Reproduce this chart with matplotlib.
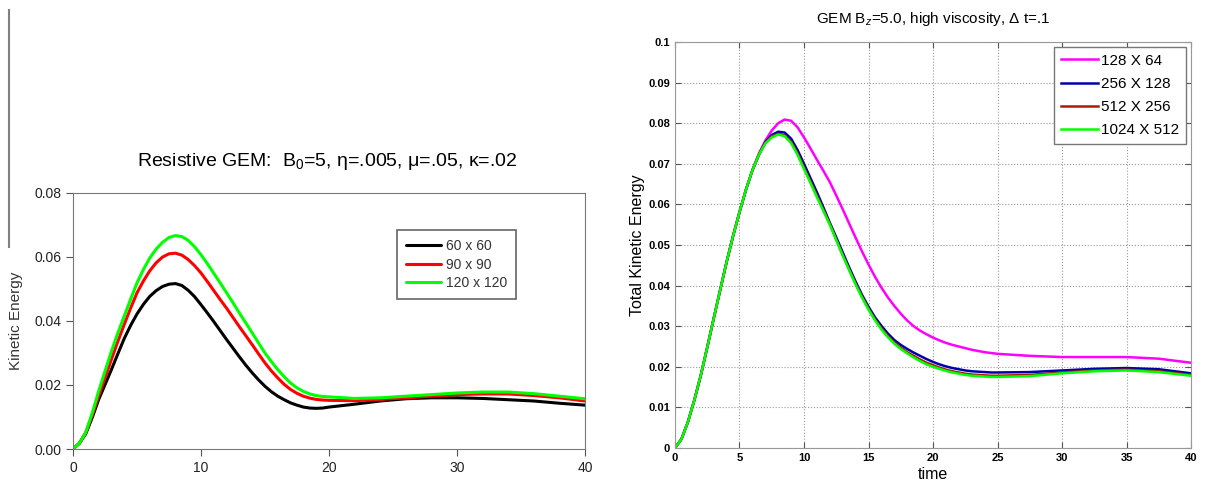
import matplotlib
matplotlib.use("Agg")
import matplotlib.pyplot as plt
from matplotlib.lines import Line2D

plt.rcParams['font.family'] = ['Liberation Sans', 'DejaVu Sans']
plt.rcParams['mathtext.fontset'] = 'custom'
plt.rcParams['mathtext.rm'] = 'Liberation Sans'
plt.rcParams['mathtext.it'] = 'Liberation Sans:italic'

# ---------------- Left panel data ----------------
t_left = [0, 0.5, 1, 1.5, 2, 2.5, 3, 3.5, 4, 4.5, 5, 5.5, 6, 6.5, 7, 7.5, 8, 8.5, 9, 9.5,
          10, 10.5, 11, 11.5, 12, 12.5, 13, 13.5, 14, 14.5, 15, 15.5, 16, 16.5, 17, 17.5,
          18, 18.5, 19, 19.5, 20, 22, 24, 26, 28, 30, 32, 34, 36, 38, 40]
ke_60 = [0, .0018, .0048, .0098, .0154, .0201, .0248, .0297, .0345, .0386, .0422, .0452,
         .0477, .0495, .0508, .0515, .0517, .0511, .0496, .0476, .0451, .0425, .0398,
         .0370, .0342, .0315, .0288, .0262, .0238, .0216, .0196, .0179, .0165, .0154,
         .0144, .0137, .0131, .0128, .0127, .0128, .0131,
         .0140, .0150, .0157, .0160, .0160, .0158, .0154, .0150, .0143, .0137]
ke_90 = [0, .0018, .0052, .0105, .0165, .0222, .0280, .0336, .0389, .0440, .0488, .0525,
         .0557, .0582, .0600, .0610, .0612, .0606, .0592, .0573, .0550, .0523, .0495,
         .0467, .0440, .0411, .0382, .0354, .0326, .0297, .0269, .0244, .0222, .0202,
         .0186, .0174, .0165, .0159, .0155, .0153, .0152,
         .0151, .0155, .0160, .0165, .0170, .0172, .0172, .0167, .0160, .0150]
ke_120 = [0, .0018, .0052, .0112, .0180, .0243, .0305, .0362, .0415, .0468, .0519, .0561,
          .0597, .0625, .0646, .0661, .0667, .0664, .0652, .0632, .0607, .0579, .0549,
          .0519, .0488, .0457, .0425, .0394, .0363, .0331, .0300, .0273, .0248, .0226,
          .0206, .0191, .0180, .0172, .0167, .0164, .0163,
          .0158, .0160, .0165, .0170, .0175, .0178, .0178, .0173, .0165, .0157]
left_labels = ["60 x 60", "90 x 90", "120 x 120"]
left_colors = ["#000000", "#ff0000", "#00ff00"]

# ---------------- Right panel data ----------------
t_right = [0, 0.5, 1, 1.5, 2, 2.5, 3, 3.5, 4, 4.5, 5, 5.5, 6, 6.5, 7, 7.5, 8, 8.5, 9, 9.5,
           10, 10.5, 11, 11.5, 12, 12.5, 13, 13.5, 14, 14.5, 15, 15.5, 16, 16.5, 17, 17.5,
           18, 18.5, 19, 19.5, 20, 20.5, 21, 21.5, 22, 22.5, 23, 23.5, 24, 24.5, 25,
           27.5, 30, 32.5, 35, 37.5, 40]
ke_128 = [0, .0022, .0064, .0118, .0179, .0248, .0319, .0389, .0458, .0522, .0581, .0636,
          .0684, .0725,
          .0757, .0782, .0800, .0809, .0806, .0790, .0765, .0738, .0710, .0683, .0655,
          .0622, .0588, .0553, .0518, .0484, .0452, .0422, .0395, .0371, .0350, .0331,
          .0314, .0300, .0289, .0280, .0272, .0265, .0259, .0254, .0250, .0246, .0242,
          .0239, .0236, .0234, .0232,
          .0227, .0224, .0224, .0224, .0220, .0210]
ke_256 = [0, .0022, .0064, .0118, .0179, .0248, .0319, .0389, .0458, .0522, .0581, .0636,
          .0684, .0722,
          .0753, .0771, .0779, .0777, .0762, .0734, .0700, .0665, .0630, .0593, .0555,
          .0519, .0482, .0445, .0410, .0377, .0348, .0322, .0301, .0282, .0266, .0254,
          .0244, .0235, .0227, .0219, .0212, .0206, .0201, .0197, .0194, .0191, .0189,
          .0188, .0187, .0186, .0186,
          .0187, .0191, .0195, .0197, .0194, .0184]
ke_512 = [0, .0022, .0064, .0118, .0179, .0248, .0319, .0389, .0458, .0522, .0581, .0636,
          .0684, .0722,
          .0751, .0767, .0774, .0770, .0754, .0726, .0691, .0657, .0622, .0587, .0552,
          .0514, .0476, .0440, .0405, .0373, .0343, .0317, .0295, .0276, .0260, .0247,
          .0236, .0227, .0218, .0210, .0204, .0198, .0193, .0189, .0186, .0183, .0181,
          .0180, .0179, .0178, .0178,
          .0180, .0186, .0191, .0193, .0189, .0180]
ke_1024 = [0, .0022, .0064, .0118, .0179, .0248, .0319, .0389, .0458, .0522, .0581, .0636,
           .0684, .0722,
           .0750, .0765, .0772, .0768, .0751, .0722, .0687, .0653, .0618, .0584, .0550,
           .0512, .0474, .0438, .0403, .0370, .0341, .0315, .0292, .0273, .0257, .0244,
           .0233, .0223, .0214, .0206, .0200, .0195, .0190, .0186, .0183, .0180, .0178,
           .0177, .0176, .0175, .0175,
           .0177, .0184, .0189, .0191, .0187, .0178]
right_labels = ["128 X 64", "256 X 128", "512 X 256", "1024 X 512"]
right_colors = ["#ff00ff", "#0000aa", "#aa1a10", "#00ff00"]

left_xticks = [0, 10, 20, 30, 40]
left_yticks = [0.00, 0.02, 0.04, 0.06, 0.08]
right_xticks = [0, 5, 10, 15, 20, 25, 30, 35, 40]
right_yticks = [0, 0.01, 0.02, 0.03, 0.04, 0.05, 0.06, 0.07, 0.08, 0.09, 0.1]

W, H = 1206, 486
fig = plt.figure(figsize=(W / 100, H / 100), dpi=100)

# decorative vertical line at far left
fig.add_artist(Line2D([9 / W, 9 / W], [1 - 10 / H, 1 - 247 / H], color="#808080", lw=1.5))

# ---------------- Left axes ----------------
axL = fig.add_axes([73 / W, 1 - 449 / H, (585 - 73) / W, (449 - 193) / H])
for y, c, lab in zip([ke_60, ke_90, ke_120], left_colors, left_labels):
    axL.plot(t_left, y, color=c, lw=2.2, label=lab, solid_capstyle="round")
axL.set_xlim(0, 40)
axL.set_ylim(0, 0.08)
axL.set_xticks(left_xticks)
axL.set_yticks(left_yticks)
axL.set_yticklabels([f"{v:.2f}" for v in left_yticks])
axL.tick_params(direction="out", length=5, labelsize=10, color="#555555", colors="#222222")
for s in axL.spines.values():
    s.set_color("#777777")
axL.set_ylabel("Kinetic Energy", fontsize=11, color="#333333", labelpad=8)
fig.text(327 / W, 1 - 162 / H, r"Resistive GEM:  B$_0$=5, η=.005, μ=.05, κ=.02",
         ha="center", va="center", fontsize=14)
legL = axL.legend(loc="upper left", bbox_to_anchor=(0.633, 0.855), fancybox=False,
                  edgecolor="#666666", fontsize=10, handlelength=2.5, borderpad=0.65,
                  labelspacing=0.33, handletextpad=0.35, framealpha=1, borderaxespad=0)
legL.get_frame().set_linewidth(1.2)
for t in legL.get_texts():
    t.set_color("#333333")

# ---------------- Right axes ----------------
axR = fig.add_axes([675 / W, 1 - 448 / H, (1191 - 675) / W, (448 - 42) / H])
for y, c, lab in zip([ke_128, ke_256, ke_512, ke_1024], right_colors, right_labels):
    axR.plot(t_right, y, color=c, lw=1.8, label=lab)
axR.set_xlim(0, 40)
axR.set_ylim(0, 0.1)
axR.set_xticks(right_xticks)
axR.set_yticks(right_yticks)
axR.set_yticklabels(["0" if v == 0 else f"{v:g}" for v in right_yticks])
axR.grid(True, linestyle=":", color="#999999", lw=0.8)
axR.tick_params(direction="in", length=4, labelsize=8, top=True, right=True,
                color="#555555")
for lab in axR.get_xticklabels() + axR.get_yticklabels():
    lab.set_fontweight("bold")
for s in axR.spines.values():
    s.set_color("#999999")
axR.set_xlabel("time", fontsize=11.5, labelpad=3)
axR.set_ylabel("Total Kinetic Energy", fontsize=11.5, labelpad=2)
axR.set_title(r"GEM B$_z$=5.0, high viscosity, Δ t=.1", fontsize=11, pad=14)
legR = axR.legend(loc="upper right", bbox_to_anchor=(0.99, 0.988), fancybox=False,
                  edgecolor="#777777", fontsize=11, handlelength=2.4, borderpad=0.45,
                  labelspacing=0.6, handletextpad=0.2, framealpha=1, borderaxespad=0)

fig.savefig("out.png", dpi=100)
